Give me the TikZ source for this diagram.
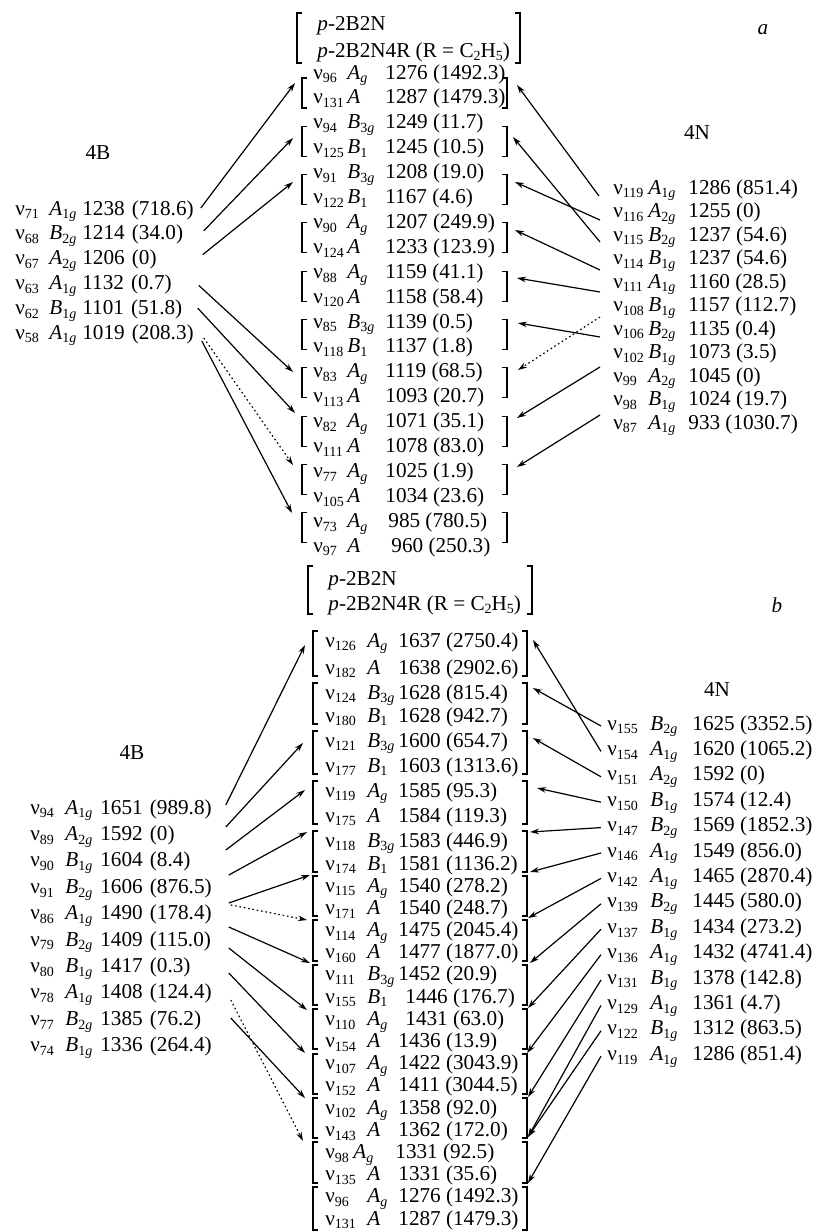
\documentclass[tikz,border=0pt]{standalone}
\usepackage{fontspec}
\setmainfont{Liberation Serif}
\usetikzlibrary{arrows.meta,calc}
\newcommand\sbs[1]{\raisebox{-0.4ex}{\fontsize{7}{7}\selectfont #1}}
\newcommand\symAg{\textit{A}\sbs{\textit{g}}}
\newcommand\symA{\textit{A}}
\newcommand\symBthg{\textit{B}\sbs{3\textit{g}}}
\newcommand\symBo{\textit{B}\sbs{1}}
\newcommand\symAog{\textit{A}\sbs{1\textit{g}}}
\newcommand\symAtg{\textit{A}\sbs{2\textit{g}}}
\newcommand\symBog{\textit{B}\sbs{1\textit{g}}}
\newcommand\symBtg{\textit{B}\sbs{2\textit{g}}}
\newcommand\rowx[5]{\makebox[#1][l]{ν\sbs{#3}}\makebox[#2][l]{#4}#5}
\newcommand\lbk[4][brk]{\draw[#1] (#2+5,#3) -- (#2,#3) -- (#2,#4) -- (#2+5,#4);}
\newcommand\rbk[4][brk]{\draw[#1] (#2-5,#3) -- (#2,#3) -- (#2,#4) -- (#2-5,#4);}
\begin{document}
\begin{tikzpicture}[x=0.5pt,y=-0.5pt,
  every node/.style={font=\fontsize{10.6}{12.5}\selectfont},
  rw/.style={anchor=base west,inner sep=0pt},
  rwf/.style={rw,text width=#1,align=left},
  brk/.style={line width=0.55pt},
  hbrk/.style={line width=0.75pt},
  arr/.style={line width=0.6pt,-{Stealth[length=4.5pt,width=2.8pt]}},
  darr/.style={arr,dash pattern=on 0.8pt off 1.4pt},
  lbl/.style={inner sep=0pt}]
\useasboundingbox (0,0) rectangle (814,1232);
\fill[white] (0,0) rectangle (814,1232);

% ===================== part a =====================
\node[lbl] (labela) at (763,30) {\textit{a}};
\node[rw] (ha1) at (317,30) {\textit{p}-2B2N};
\node[rw] (ha2) at (317,57) {\textit{p}-2B2N4R (R = C\sbs{2}H\sbs{5})};
\lbk[hbrk]{297}{13}{63} \rbk[hbrk]{520}{13}{63}

\node[lbl] (t4Ba) at (98,153) {4B};
\node[lbl] (t4Na) at (697,133) {4N};

\foreach \vi/\vn/\vs/\vt in {0/96/\symAg/1276 (1492.3), 1/131/\symA/1287 (1479.3),
  2/94/\symBthg/1249 (11.7), 3/125/\symBo/1245 (10.5),
  4/91/\symBthg/1208 (19.0), 5/122/\symBo/1167 (4.6),
  6/90/\symAg/1207 (249.9), 7/124/\symA/1233 (123.9),
  8/88/\symAg/1159 (41.1), 9/120/\symA/1158 (58.4),
  10/85/\symBthg/1139 (0.5), 11/118/\symBo/1137 (1.8),
  12/83/\symAg/1119 (68.5), 13/113/\symA/1093 (20.7),
  14/82/\symAg/1071 (35.1), 15/111/\symA/1078 (83.0),
  16/77/\symAg/1025 (1.9), 17/105/\symA/1034 (23.6),
  18/73/\symAg/\kern1.5pt985 (780.5), 19/97/\symA/\kern3pt960 (250.3)}
  \node[rw] (ca\vi) at (313,79+24.9*\vi) {\rowx{17pt}{19pt}{\vn}{\vs}{\vt}};

\foreach \k in {0,...,9}{
  \pgfmathsetmacro\bt{78+48.3*\k}\pgfmathsetmacro\bb{\bt+30}
  \lbk{302}{\bt}{\bb} \rbk{507}{\bt}{\bb}}

\foreach \vi/\vn/\vs/\vt in {0/71/\symAog/1238 (718.6), 1/68/\symBtg/1214 (34.0),
  2/67/\symAtg/1206 (0), 3/63/\symAog/1132 (0.7), 4/62/\symBog/1101 (51.8),
  5/58/\symAog/1019 (208.3)}
  \node[rwf=92.5pt] (la\vi) at (15,215+24.8*\vi) {\rowx{17pt}{16.5pt}{\vn}{\vs}{\vt}};

\foreach \vi/\vn/\vs/\vt in {0/119/\symAog/1286 (851.4), 1/116/\symAtg/1255 (0),
  2/115/\symBtg/1237 (54.6), 3/114/\symBog/1237 (54.6), 4/111/\symAog/1160 (28.5),
  5/108/\symBog/1157 (112.7), 6/106/\symBtg/1135 (0.4), 7/102/\symBog/1073 (3.5),
  8/99/\symAtg/1045 (0), 9/98/\symBog/1024 (19.7), 10/87/\symAog/933 (1030.7)}
  \node[rw] (ra\vi) at (613,194+23.5*\vi) {\rowx{17.5pt}{20pt}{\vn}{\vs}{\vt}};

% arrow targets, part a
\coordinate (tal0) at (295,83);  \coordinate (tal1) at (293,138);
\coordinate (tal2) at (293,182); \coordinate (tal6) at (293,372);
\coordinate (tal7) at (295,413); \coordinate (tal8) at (293,465);
\coordinate (tal9) at (292,513);
\coordinate (tar0) at (517,85);  \coordinate (tar1) at (513,137);
\coordinate (tar2) at (515,182); \coordinate (tar3) at (515,230);
\coordinate (tar4) at (517,278); \coordinate (tar5) at (518,323);
\coordinate (tar6) at (518,370); \coordinate (tar7) at (517,418);
\coordinate (tar8) at (517,467);

\draw[arr] ($(la0.base east)+(0,-7)$) -- (tal0);
\draw[arr] ($(la1.base east)+(3,-9)$) -- (tal1);
\draw[arr] ($(la2.base east)+(2,-10)$) -- (tal2);
\draw[arr] ($(la3.base east)+(-2,-4)$) -- (tal6);
\draw[arr] ($(la4.base east)+(-3,-6)$) -- (tal7);
\draw[darr] ($(la5.base east)+(3,-1)$) -- (tal8);
\draw[arr] ($(la5.base east)+(1,2)$) -- (tal9);

\draw[arr] ($(ra0.base west)+(-14,2)$) -- (tar0);
\draw[arr] ($(ra2.base west)+(-13,1)$) -- (tar1);
\draw[arr] ($(ra1.base west)+(-13,2.5)$) -- (tar2);
\draw[arr] ($(ra3.base west)+(-13,5.5)$) -- (tar3);
\draw[arr] ($(ra4.base west)+(-13,4)$) -- (tar4);
\draw[arr] ($(ra6.base west)+(-13,2)$) -- (tar5);
\draw[darr] ($(ra5.base west)+(-13,5.5)$) -- (tar6);
\draw[arr] ($(ra7.base west)+(-13,8.5)$) -- (tar7);
\draw[arr] ($(ra9.base west)+(-13,9.5)$) -- (tar8);

% ===================== part b =====================
\node[lbl] (labelb) at (777,605) {\textit{b}};
\node[rw] (hb1) at (328,585) {\textit{p}-2B2N};
\node[rw] (hb2) at (328,610) {\textit{p}-2B2N4R (R = C\sbs{2}H\sbs{5})};
\lbk[hbrk]{308}{566}{614} \rbk[hbrk]{532}{566}{614}

\node[lbl] (t4Bb) at (132,753) {4B};
\node[lbl] (t4Nb) at (717,690) {4N};

\foreach \vi/\vy/\vn/\vs/\vt in {0/640/126/\symAg/1637 (2750.4), 1/667/182/\symA/1638 (2902.6),
  2/692/124/\symBthg/1628 (815.4), 3/715/180/\symBo/1628 (942.7),
  4/740/121/\symBthg/1600 (654.7), 5/765/177/\symBo/1603 (1313.6),
  6/790/119/\symAg/1585 (95.3), 7/815/175/\symA/1584 (119.3),
  8/840/118/\symBthg/1583 (446.9), 9/863/174/\symBo/1581 (1136.2),
  10/885/115/\symAg/1540 (278.2), 11/907.2/171/\symA/1540 (248.7),
  12/929.4/114/\symAg/1475 (2045.4), 13/951.6/160/\symA/1477 (1877.0),
  14/973.8/111/\symBthg/1452 (20.9), 15/996/155/\symBo/\kern3.5pt1446 (176.7),
  16/1018.2/110/\symAg/\kern3.5pt1431 (63.0), 17/1040.4/154/\symA/1436 (13.9),
  18/1062.6/107/\symAg/1422 (3043.9), 19/1084.8/152/\symA/1411 (3044.5),
  20/1107/102/\symAg/1358 (92.0), 21/1129.2/143/\symA/1362 (172.0),
  23/1173.6/135/\symA/1331 (35.6),
  24/1195.8/96/\symAg/1276 (1492.3), 25/1218/131/\symA/1287 (1479.3)}
  \node[rw] (cb\vi) at (325,\vy+7) {\rowx{21pt}{15.5pt}{\vn}{\vs}{\vt}};
\node[rw] (cb22) at (325,1158.4) {\rowx{14pt}{21pt}{98}{\symAg}{1331 (92.5)}};

\foreach \vt/\vb in {631/676,683/724,731/774,781/824,831/872,876/916,920/961,
  965/1005,1009/1049,1054/1094,1098/1138,1142/1183,1187/1230}{
  \lbk{313}{\vt}{\vb} \rbk{527}{\vt}{\vb}}

\foreach \vi/\vn/\vs/\vt in {0/94/\symAog/1651 (989.8), 1/89/\symAtg/1592 (0),
  2/90/\symBog/1604 (8.4), 3/91/\symBtg/1606 (876.5), 4/86/\symAog/1490 (178.4),
  5/79/\symBtg/1409 (115.0), 6/80/\symBog/1417 (0.3), 7/78/\symAog/1408 (124.4),
  8/77/\symBtg/1385 (76.2), 9/74/\symBog/1336 (264.4)}
  \node[rwf=98.5pt] (lb\vi) at (30,814+26.4*\vi) {\rowx{17.5pt}{17.5pt}{\vn}{\vs}{\vt}};

\foreach \vi/\vn/\vs/\vt in {0/155/\symBtg/1625 (3352.5), 1/154/\symAog/1620 (1065.2),
  2/151/\symAtg/1592 (0), 3/150/\symBog/1574 (12.4), 4/147/\symBtg/1569 (1852.3),
  5/146/\symAog/1549 (856.0), 6/142/\symAog/1465 (2870.4), 7/139/\symBtg/1445 (580.0),
  8/137/\symBog/1434 (273.2), 9/136/\symAog/1432 (4741.4), 10/131/\symBog/1378 (142.8),
  11/129/\symAog/1361 (4.7), 12/122/\symBog/1312 (863.5), 13/119/\symAog/1286 (851.4)}
  \node[rw] (rb\vi) at (607,730+25.4*\vi) {\rowx{21.5pt}{21pt}{\vn}{\vs}{\vt}};

% arrow targets, part b
\coordinate (tbl0) at (305,645);  \coordinate (tbl2) at (303,743);
\coordinate (tbl3) at (305,790);  \coordinate (tbl4) at (307,832);
\coordinate (tbl5) at (310,875);  \coordinate (tbl6) at (307,920);
\coordinate (tbl7) at (310,963);  \coordinate (tbl8) at (307,1010);
\coordinate (tbl9) at (305,1053); \coordinate (tbl10) at (305,1098);
\coordinate (tbl11) at (303,1141);
\coordinate (tbr0) at (533,640);  \coordinate (tbr1) at (533,688);
\coordinate (tbr2) at (533,738);  \coordinate (tbr3) at (537,788);
\coordinate (tbr4) at (530,832);  \coordinate (tbr5) at (530,872);
\coordinate (tbr6) at (528,918);  \coordinate (tbr7) at (530,963);
\coordinate (tbr8) at (528,1008); \coordinate (tbr9) at (527,1053);
\coordinate (tbr10) at (528,1097); \coordinate (tbr11) at (528,1137);
\coordinate (tbr12) at (528,1183);

\draw[arr] ($(lb0.base east)+(-2,-9)$) -- (tbl0);
\draw[arr] ($(lb1.base east)+(-2,-13.4)$) -- (tbl2);
\draw[arr] ($(lb2.base east)+(-2,-16.8)$) -- (tbl3);
\draw[arr] ($(lb3.base east)+(1,-18.2)$) -- (tbl4);
\draw[arr] ($(lb4.base east)+(1,-16.6)$) -- (tbl5);
\draw[darr] ($(lb4.base east)+(3,-14.6)$) -- (tbl6);
\draw[arr] ($(lb5.base east)+(1,-19)$) -- (tbl7);
\draw[arr] ($(lb6.base east)+(1,-24.4)$) -- (tbl8);
\draw[arr] ($(lb7.base east)+(1,-25.8)$) -- (tbl9);
\draw[darr] ($(lb8.base east)+(3,-25.2)$) -- (tbl11);
\draw[arr] ($(lb9.base east)+(3,-33.6)$) -- (tbl10);

\draw[arr] ($(rb0.base west)+(-6,-4)$) -- (tbr1);
\draw[arr] ($(rb1.base west)+(-6,-4)$) -- (tbr0);
\foreach \j in {2,...,10}
  \draw[arr] ($(rb\j.base west)+(-6,-4)$) -- (tbr\j);
\draw[arr] ($(rb11.base west)+(-6,-4)$) -- (tbr11);
\draw[arr] ($(rb12.base west)+(-6,-4)$) -- (tbr11);
\draw[arr] ($(rb13.base west)+(-6,-4)$) -- (tbr12);
\end{tikzpicture}
\end{document}
